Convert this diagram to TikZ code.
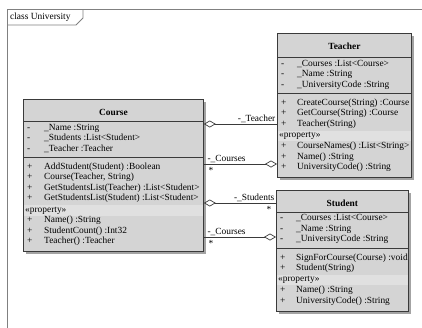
\documentclass[tikz,border=0pt]{standalone}
\usepackage{fontspec}
\setmainfont{Liberation Serif}
\usetikzlibrary{arrows.meta,positioning,calc,shadows}
\definecolor{boxgray}{HTML}{D4D4D4}
\definecolor{propgray}{HTML}{E0E0E0}
\definecolor{ink}{HTML}{3A3A3A}
\definecolor{framegray}{HTML}{808080}
\tikzset{
  classbox/.style={draw=ink,fill=boxgray,line width=0.8pt,inner sep=0pt,anchor=north west,
                   drop shadow={shadow xshift=2.5pt,shadow yshift=-2.5pt,fill=black!60,opacity=0.6}},
  classname/.style={font=\fontsize{9.4}{10}\selectfont\bfseries,inner sep=0pt},
  member/.style={anchor=west,font=\fontsize{9.4}{10}\selectfont,inner sep=0pt,
                 text height=6.5pt,text depth=2pt},
  sepline/.style={draw=ink,line width=0.7pt},
  propstrip/.style={fill=propgray},
  assoc/.style={draw=ink,line width=0.7pt},
  aggstart/.style={{Diamond[open,length=12pt,width=7pt]}-},
  aggend/.style={-{Diamond[open,length=12pt,width=7pt]}},
  lbl/.style={font=\fontsize{9.4}{10}\selectfont,inner sep=1.5pt}
}

\begin{document}
\begin{tikzpicture}[x=1pt,y=-1pt]
  \useasboundingbox (0,0) rectangle (422,327);
  % frame
  \draw[framegray,line width=1.1pt] (7.5,340) -- (7.5,9.5) -- (430,9.5);
  \draw[framegray,line width=0.8pt] (7.5,25) -- (76,25) -- (83,18) -- (83,9.5);
  \node[member] (frametitle) at (10,17.5) {class University};

  % Course
  \node[classbox,minimum width=180pt,minimum height=152pt] (course) at (23,99) {};
  \fill[propstrip] (23.5,205) rectangle (202.5,215.5);
  \node[classname] (coursetitle) at ($(course.north)+(0,13.5)$) {Course};
  \draw[sepline] (23,121.5) -- (203,121.5);
  \draw[sepline] (23,157.5) -- (203,157.5);
  \foreach \vis/\txt [count=\i] in {-/\_Name :String, -/\_Students :List<Student>, -/\_Teacher :Teacher}{
    \node[member] (cav\i) at (27,{128+10.5*(\i-1)}) {\vis};
    \node[member] (ca\i) at (44,{128+10.5*(\i-1)}) {\txt};
  }
  \foreach \vis/\txt [count=\i] in {+/AddStudent(Student) :Boolean, {+/Course(Teacher, String)},
      +/GetStudentsList(Teacher) :List<Student>, +/GetStudentsList(Student) :List<Student>}{
    \node[member] (cov\i) at (27,{167+10.5*(\i-1)}) {\vis};
    \node[member] (co\i) at (44,{167+10.5*(\i-1)}) {\txt};
  }
  \node[member] (cprop) at (25,210) {«property»};
  \foreach \vis/\txt [count=\i] in {+/Name() :String, +/StudentCount() :Int32, +/Teacher() :Teacher}{
    \node[member] (cpv\i) at (27,{220.5+10.5*(\i-1)}) {\vis};
    \node[member] (cp\i) at (44,{220.5+10.5*(\i-1)}) {\txt};
  }

  % Teacher
  \node[classbox,minimum width=134pt,minimum height=144pt] (teacher) at (277,33) {};
  \fill[propstrip] (277.5,130.5) rectangle (410.5,141);
  \node[classname] (teachertitle) at ($(teacher.north)+(0,13.5)$) {Teacher};
  \draw[sepline] (277,57) -- (411,57);
  \draw[sepline] (277,93.5) -- (411,93.5);
  \foreach \vis/\txt [count=\i] in {-/\_Courses :List<Course>, -/\_Name :String, -/\_UniversityCode :String}{
    \node[member] (tav\i) at (281,{64+10.5*(\i-1)}) {\vis};
    \node[member] (ta\i) at (297,{64+10.5*(\i-1)}) {\txt};
  }
  \foreach \vis/\txt [count=\i] in {+/CreateCourse(String) :Course, +/GetCourse(String) :Course, +/Teacher(String)}{
    \node[member] (tov\i) at (281,{103+10.5*(\i-1)}) {\vis};
    \node[member] (to\i) at (297,{103+10.5*(\i-1)}) {\txt};
  }
  \node[member] (tprop) at (279,135.5) {«property»};
  \foreach \vis/\txt [count=\i] in {+/CourseNames() :List<String>, +/Name() :String, +/UniversityCode() :String}{
    \node[member] (tpv\i) at (281,{146.5+10.5*(\i-1)}) {\vis};
    \node[member] (tp\i) at (297,{146.5+10.5*(\i-1)}) {\txt};
  }

  % Student
  \node[classbox,minimum width=132pt,minimum height=121pt] (student) at (276,190) {};
  \fill[propstrip] (276.5,274.5) rectangle (407.5,285);
  \node[classname] (studenttitle) at ($(student.north)+(0,13)$) {Student};
  \draw[sepline] (276,212) -- (408,212);
  \draw[sepline] (276,248.5) -- (408,248.5);
  \foreach \vis/\txt [count=\i] in {-/\_Courses :List<Course>, -/\_Name :String, -/\_UniversityCode :String}{
    \node[member] (sav\i) at (280,{218.5+10.5*(\i-1)}) {\vis};
    \node[member] (sa\i) at (296,{218.5+10.5*(\i-1)}) {\txt};
  }
  \foreach \vis/\txt [count=\i] in {+/SignForCourse(Course) :void, +/Student(String)}{
    \node[member] (sov\i) at (280,{258+10.5*(\i-1)}) {\vis};
    \node[member] (so\i) at (296,{258+10.5*(\i-1)}) {\txt};
  }
  \node[member] (sprop) at (278,279.5) {«property»};
  \foreach \vis/\txt [count=\i] in {+/Name() :String, +/UniversityCode() :String}{
    \node[member] (spv\i) at (280,{290.5+10.5*(\i-1)}) {\vis};
    \node[member] (sp\i) at (296,{290.5+10.5*(\i-1)}) {\txt};
  }

  % associations
  \coordinate (c1) at ($(course.north east)+(0,25)$);
  \coordinate (t1) at (c1 -| teacher.west);
  \coordinate (c2) at ($(course.north east)+(0,65)$);
  \coordinate (t2) at (c2 -| teacher.west);
  \coordinate (c3) at ($(course.north east)+(0,104)$);
  \coordinate (s3) at (c3 -| student.west);
  \coordinate (c4) at ($(course.north east)+(0,138)$);
  \coordinate (s4) at (c4 -| student.west);

  \draw[assoc,aggstart] (c1) -- (t1);
  \node[lbl,anchor=south east] (l1) at (t1) {-\_Teacher};

  \draw[assoc,aggend] (c2) -- (t2);
  \node[lbl,anchor=south west] (l2) at ($(c2)+(2,0)$) {-\_Courses};
  \node[lbl,anchor=north west] (m2) at ($(c2)+(3,2)$) {*};

  \draw[assoc,aggstart] (c3) -- (s3);
  \node[lbl,anchor=south east] (l3) at (s3) {-\_Students};
  \node[lbl,anchor=north east] (m3) at ($(s3)+(-3,2)$) {*};

  \draw[assoc,aggend] (c4) -- (s4);
  \node[lbl,anchor=south west] (l4) at ($(c4)+(2,0)$) {-\_Courses};
  \node[lbl,anchor=north west] (m4) at ($(c4)+(3,2)$) {*};
\end{tikzpicture}
\end{document}
